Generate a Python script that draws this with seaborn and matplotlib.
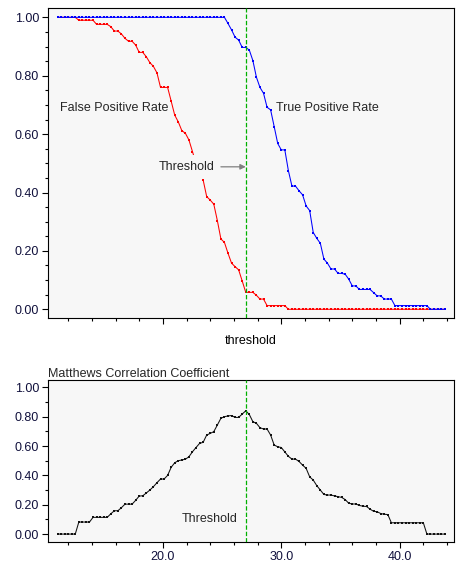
import matplotlib
matplotlib.use("Agg")
import matplotlib.pyplot as plt
from matplotlib.ticker import MultipleLocator, FormatStrFormatter, NullFormatter
import seaborn as sns

# ---------------- data ----------------
thresholds = [11.1, 11.4, 11.7, 12.0, 12.3, 12.6, 12.9, 13.2, 13.5, 13.8,
              14.1, 14.4, 14.7, 15.0, 15.3, 15.6, 15.9, 16.2, 16.5, 16.8,
              17.1, 17.4, 17.7, 18.0, 18.3, 18.6, 18.9, 19.2, 19.5, 19.8,
              20.1, 20.4, 20.7, 21.0, 21.3, 21.6, 21.9, 22.2, 22.5, 22.8,
              23.1, 23.4, 23.7, 24.0, 24.3, 24.6, 24.9, 25.2, 25.5, 25.8,
              26.1, 26.4, 26.7, 27.0, 27.3, 27.6, 27.9, 28.2, 28.5, 28.8,
              29.1, 29.4, 29.7, 30.0, 30.3, 30.6, 30.9, 31.2, 31.5, 31.8,
              32.1, 32.4, 32.7, 33.0, 33.3, 33.6, 33.9, 34.2, 34.5, 34.8,
              35.1, 35.4, 35.7, 36.0, 36.3, 36.6, 36.9, 37.2, 37.5, 37.8,
              38.1, 38.4, 38.7, 39.0, 39.3, 39.6, 39.9, 40.2, 40.5, 40.8,
              41.1, 41.4, 41.7, 42.0, 42.3, 42.6, 42.9, 43.2, 43.5, 43.8]

false_positive_rate = [
    1.0, 1.0, 1.0, 1.0, 1.0, 1.0, 0.99, 0.99, 0.99, 0.99,
    0.99, 0.976, 0.976, 0.976, 0.976, 0.968, 0.953, 0.953, 0.943, 0.928,
    0.918, 0.918, 0.905, 0.88, 0.88, 0.865, 0.845, 0.832, 0.81, 0.76,
    0.76, 0.76, 0.713, 0.665, 0.642, 0.612, 0.603, 0.58, 0.54, 0.50,
    0.47, 0.443, 0.386, 0.374, 0.36, 0.304, 0.241, 0.229, 0.192, 0.158,
    0.146, 0.135, 0.097, 0.058, 0.058, 0.058, 0.048, 0.035, 0.035, 0.0126,
    0.0126, 0.0126, 0.0126, 0.0126, 0.0126, 0.0, 0.0, 0.0, 0.0, 0.0,
    0.0, 0.0, 0.0, 0.0, 0.0, 0.0, 0.0, 0.0, 0.0, 0.0,
    0.0, 0.0, 0.0, 0.0, 0.0, 0.0, 0.0, 0.0, 0.0, 0.0,
    0.0, 0.0, 0.0, 0.0, 0.0, 0.0, 0.0, 0.0, 0.0, 0.0,
    0.0, 0.0, 0.0, 0.0, 0.0, 0.0, 0.0, 0.0, 0.0, 0.0]

true_positive_rate = [
    1.0, 1.0, 1.0, 1.0, 1.0, 1.0, 1.0, 1.0, 1.0, 1.0,
    1.0, 1.0, 1.0, 1.0, 1.0, 1.0, 1.0, 1.0, 1.0, 1.0,
    1.0, 1.0, 1.0, 1.0, 1.0, 1.0, 1.0, 1.0, 1.0, 1.0,
    1.0, 1.0, 1.0, 1.0, 1.0, 1.0, 1.0, 1.0, 1.0, 1.0,
    1.0, 1.0, 1.0, 1.0, 1.0, 1.0, 1.0, 1.0, 0.979, 0.957,
    0.932, 0.922, 0.897, 0.897, 0.888, 0.852, 0.795, 0.76, 0.74, 0.692,
    0.683, 0.626, 0.568, 0.546, 0.546, 0.475, 0.422, 0.422, 0.406, 0.392,
    0.354, 0.338, 0.263, 0.243, 0.226, 0.172, 0.158, 0.138, 0.138, 0.123,
    0.123, 0.12, 0.103, 0.08, 0.08, 0.068, 0.068, 0.068, 0.068, 0.057,
    0.046, 0.046, 0.035, 0.035, 0.035, 0.0126, 0.0126, 0.0126, 0.0126, 0.0126,
    0.0126, 0.0126, 0.0126, 0.0126, 0.0126, 0.0, 0.0, 0.0, 0.0, 0.0]

matthews_cc = [
    0.0, 0.0, 0.0, 0.0, 0.0, 0.0, 0.082, 0.082, 0.082, 0.082,
    0.114, 0.114, 0.114, 0.114, 0.114, 0.138, 0.159, 0.159, 0.18, 0.204,
    0.204, 0.204, 0.23, 0.259, 0.261, 0.28, 0.30, 0.323, 0.35, 0.375,
    0.375, 0.40, 0.455, 0.486, 0.50, 0.505, 0.51, 0.527, 0.561, 0.59,
    0.618, 0.625, 0.675, 0.686, 0.698, 0.743, 0.789, 0.80, 0.805, 0.808,
    0.795, 0.795, 0.818, 0.84, 0.815, 0.766, 0.755, 0.725, 0.716, 0.716,
    0.675, 0.607, 0.595, 0.59, 0.56, 0.53, 0.511, 0.511, 0.495, 0.47,
    0.448, 0.39, 0.368, 0.33, 0.30, 0.27, 0.266, 0.266, 0.26, 0.255,
    0.25, 0.235, 0.21, 0.205, 0.205, 0.195, 0.19, 0.188, 0.17, 0.155,
    0.152, 0.14, 0.135, 0.133, 0.077, 0.077, 0.077, 0.077, 0.077, 0.077,
    0.077, 0.077, 0.077, 0.077, 0.0, 0.0, 0.0, 0.0, 0.0, 0.0]

threshold_value = 27.0

# ---------------- style ----------------
sns.set_style("ticks")
plt.rcParams["font.family"] = ["Liberation Sans", "DejaVu Sans"]
plt.rcParams["font.size"] = 9

BG = "#f7f7f7"
TICK_COLOR = "#10103c"
GREEN = "#00b000"

fig = plt.figure(figsize=(4.66, 5.71), dpi=100)
fig.patch.set_facecolor("white")

ax1 = fig.add_axes([0.1036, 0.443, 0.8704, 0.543])
ax2 = fig.add_axes([0.1036, 0.0513, 0.8704, 0.2832])

line_kw = dict(lw=0.75, marker="s", markeredgewidth=0,
               estimator=None, sort=False)

sns.lineplot(x=thresholds, y=false_positive_rate, ax=ax1, color="#ff0000",
             markersize=2.15, **line_kw)
sns.lineplot(x=thresholds, y=true_positive_rate, ax=ax1, color="#0000ff",
             markersize=2.15, **line_kw)
sns.lineplot(x=thresholds, y=matthews_cc, ax=ax2, color="#111111",
             markersize=1.75, **line_kw)

for ax in (ax1, ax2):
    ax.set_facecolor(BG)
    ax.axvline(threshold_value, color=GREEN, lw=0.9, dashes=(3.5, 1.6), zorder=4)
    ax.set_xlim(10.32, 44.58)
    for s in ax.spines.values():
        s.set_visible(True)
        s.set_color("black")
        s.set_linewidth(0.8)
    ax.xaxis.set_major_locator(MultipleLocator(10))
    ax.xaxis.set_minor_locator(MultipleLocator(2))
    ax.yaxis.set_major_locator(MultipleLocator(0.2))
    ax.yaxis.set_major_formatter(FormatStrFormatter("%.2f"))
    ax.tick_params(axis="both", which="major", direction="out", length=4,
                   width=0.8, color="black", labelcolor=TICK_COLOR,
                   labelsize=9, pad=2.5)
    ax.tick_params(axis="both", which="minor", direction="out", length=2.3,
                   width=0.8, color="black")
    ax.set_ylabel("")

# top chart
ax1.set_ylim(-0.03, 1.032)
ax1.yaxis.set_minor_locator(MultipleLocator(0.05))
ax1.xaxis.set_major_formatter(NullFormatter())
ax1.set_xlabel("threshold", fontsize=9, labelpad=6, color="black")

ax1.text(11.31, 0.689, "False Positive Rate", ha="left", va="center", fontsize=9)
ax1.text(29.59, 0.689, "True Positive Rate", ha="left", va="center", fontsize=9)
ax1.text(19.66, 0.488, "Threshold", ha="left", va="center", fontsize=9, zorder=6,
         bbox=dict(facecolor=BG, edgecolor="none", pad=4.5))
ax1.annotate("", xy=(threshold_value, 0.488), xytext=(24.9, 0.488),
             arrowprops=dict(arrowstyle="-|>", color="#808080", lw=0.9,
                             mutation_scale=8, shrinkA=0, shrinkB=0), zorder=6)

# bottom chart
ax2.set_ylim(-0.052, 1.05)
ax2.yaxis.set_minor_locator(MultipleLocator(0.1))
ax2.xaxis.set_major_formatter(FormatStrFormatter("%.1f"))
ax2.set_xlabel("")
ax2.set_title("Matthews Correlation Coefficient", loc="left", fontsize=9, pad=2)
ax2.text(21.6, 0.10, "Threshold", ha="left", va="center", fontsize=9)

fig.savefig("out.png", dpi=100, facecolor="white")
